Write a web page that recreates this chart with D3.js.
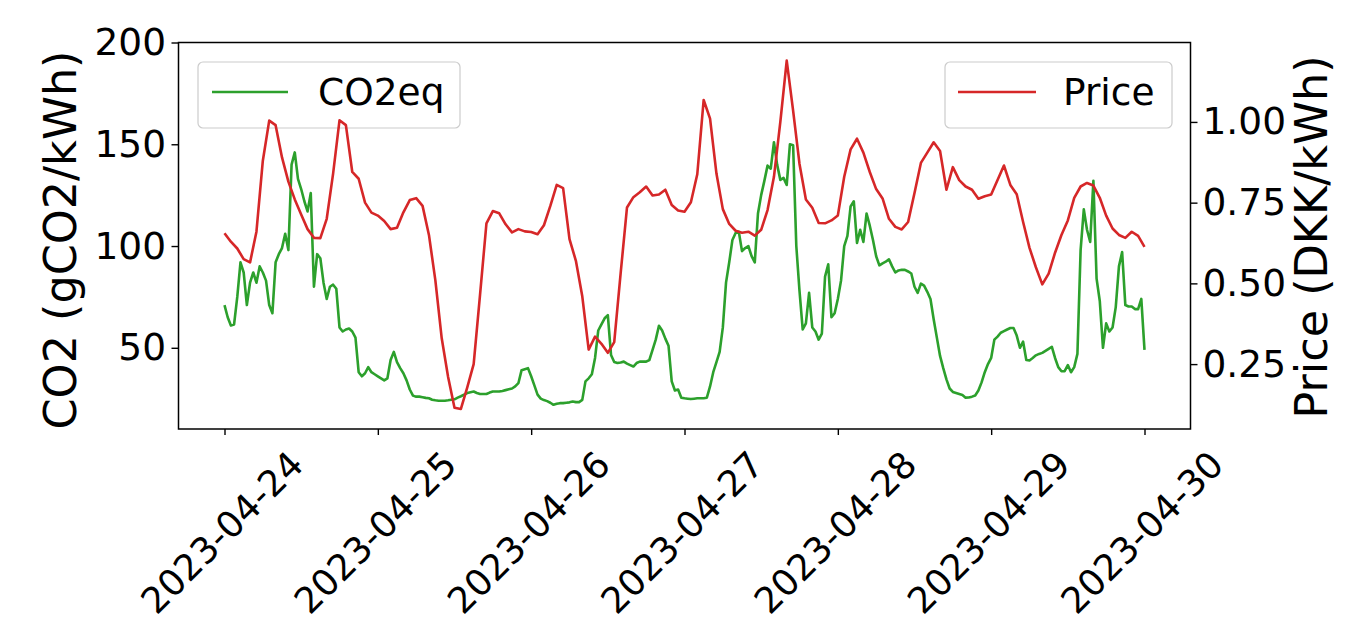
<!DOCTYPE html>
<html>
<head>
<meta charset="utf-8">
<script src="https://cdn.jsdelivr.net/npm/d3@7"></script>
<style>
    body { margin: 0; background: #fff; }
    text { font-family: "DejaVu Sans", sans-serif; }
</style>
</head>
<body>
<svg id="chart" width="1357" height="638"></svg>
<script>
// day ticks shown on the x axis
const dayTicks = ["2023-04-24", "2023-04-25", "2023-04-26", "2023-04-27", "2023-04-28", "2023-04-29", "2023-04-30"]
const co2Ticks = [50, 100, 150, 200]
const priceTicks = [0.25, 0.50, 0.75, 1.00]

// CO2eq, gCO2/kWh, every 30 min from 2023-04-24 00:00
const co2 = [
    71, 65, 61, 61.5, 75, 92, 87, 71, 82, 87, 82, 90, 87, 83, 71, 67, 92, 96, 99, 106, 98, 140, 146, 133,
    128, 122, 117, 126, 80, 96, 94, 82, 74, 80, 81, 79, 60, 58, 59, 59.5, 58, 55, 38, 36, 37.5, 40.5, 38, 37,
    36, 35, 34, 35, 44, 48, 43, 40, 37.5, 34, 29.5, 26.5, 26, 26, 25.7, 25.4, 25.2, 24.5, 24.2, 24, 24, 24, 24.2, 24.5,
    24.7, 25.5, 26.2, 27, 27.8, 28.2, 28.5, 27.8, 27.3, 27.3, 27.3, 28, 28.5, 28.5, 28.5, 28.8, 29.2, 29.6, 30, 31, 32.6, 39, 39.5, 40,
    36, 31.5, 27, 25, 24.3, 23.8, 23, 22, 22.5, 22.8, 22.8, 23, 23.2, 23.6, 23.3, 23.3, 24.4, 33.5, 35, 37, 45, 58.5, 61.5, 64.5,
    66, 46.5, 43, 42.5, 42.8, 43.2, 42.2, 41.5, 40.8, 42.5, 43.2, 43.2, 43.2, 44, 49, 54, 60.8, 58.5, 54.5, 51, 33.5, 29, 29.5, 25.5,
    25.2, 25, 24.8, 25, 25.2, 25.2, 25.2, 25.5, 31, 38, 43, 48, 60, 82, 92, 103, 106.4, 107, 97.5, 99, 100, 95, 92, 116,
    125, 132, 139.5, 138, 151, 140, 132.5, 133.5, 130, 150, 149.5, 100, 78, 59, 62, 77, 60, 58, 54, 57, 85, 91, 65, 67,
    74, 83, 100, 105, 119.5, 122, 101.5, 108, 102, 116, 110, 103, 95, 90.5, 91.5, 92.3, 93.5, 90, 87, 88, 88.3, 88.3, 87.5, 86.5,
    80, 77, 81.5, 80.5, 77.5, 74, 64, 55, 46, 40, 34.5, 30, 28.3, 27.8, 27.3, 26.8, 25.5, 25.6, 26, 26.6, 29, 33, 38, 42,
    45, 54, 55.5, 57.4, 58.2, 59, 59.7, 59.7, 56, 50, 53, 44, 43.8, 45, 46.3, 47, 47.5, 48.5, 49.5, 50.5, 45, 40.5, 38.5, 38.5,
    41.5, 38, 40.5, 47, 98, 118, 108, 102, 132, 84, 73, 50, 62, 58, 60, 70, 90, 97, 71, 70.3, 70.3, 69, 69, 74,
    49
]

// Price, DKK/kWh, hourly from 2023-04-24 00:00
const price = [
    .655, .629, .608, .575, .565, .66, .88, 1.004, .99, .89, .815, .76, .713, .668, .641, .64, .70, .84, 1.005, .99, .845, .824, .75, .719,
    .71, .693, .668, .672, .72, .758, .764, .74, .65, .51, .33, .21, .115, .111, .178, .25, .465, .686, .724, .717, .683, .658, .668, .661,
    .659, .652, .68, .74, .805, .795, .637, .57, .46, .295, .335, .313, .285, .318, .53, .735, .767, .782, .80, .772, .775, .79, .743, .726,
    .722, .751, .838, 1.068, 1.01, .84, .73, .684, .663, .657, .66, .648, .666, .727, .83, 1.0, 1.19, 1.035, .87, .76, .734, .687, .686, .695,
    .71, .83, .915, .948, .905, .845, .792, .763, .70, .675, .667, .69, .78, .873, .905, .937, .91, .79, .86, .82, .80, .79, .762, .77,
    .775, .82, .865, .805, .776, .69, .61, .55, .497, .53, .595, .65, .695, .765, .80, .811, .803, .765, .71, .67, .65, .641, .66, .647,
    .613
]

const green = "#2ca02c"
const red = "#d62728"

const parseDay = d3.timeParse("%Y-%m-%d")
const fmtDay = d3.timeFormat("%Y-%m-%d")
const days = dayTicks.map(parseDay)
const start = days[0]
const end = days[days.length - 1]

const co2Data = co2.map((v, i) => ({t: d3.timeMinute.offset(start, 30 * i), v: v}))
const priceData = price.map((v, i) => ({t: d3.timeHour.offset(start, i), v: v}))

const plotL = 178.5, plotR = 1190.5, plotT = 42.5, plotB = 429
const pad = (end - start) * 0.05

const x = d3.scaleTime()
    .domain([new Date(+start - pad), new Date(+end + pad)])
    .range([plotL, plotR])
const yCo2 = d3.scaleLinear().domain([10.1, 200]).range([plotB, plotT])
const yPrice = d3.scaleLinear().domain([0.049, 1.246]).range([plotB, plotT])

const svg = d3.select("#chart")
svg.append("rect").attr("width", 1357).attr("height", 638).attr("fill", "#fff")

// CO2 line (first axes)
svg.append("path")
    .datum(co2Data)
    .attr("fill", "none")
    .attr("stroke", green)
    .attr("stroke-width", 2.6)
    .attr("stroke-linejoin", "round")
    .attr("d", d3.line().x(d => x(d.t)).y(d => yCo2(d.v)))

// CO2 legend
const leg1 = svg.append("g")
leg1.append("rect")
    .attr("x", 198).attr("y", 62).attr("width", 262).attr("height", 66).attr("rx", 5)
    .attr("fill", "#fff").attr("fill-opacity", 0.8)
    .attr("stroke", "#cccccc").attr("stroke-width", 1.2)
leg1.append("line")
    .attr("x1", 212).attr("x2", 288).attr("y1", 92).attr("y2", 92)
    .attr("stroke", green).attr("stroke-width", 2.6)
leg1.append("text")
    .attr("x", 318).attr("y", 105)
    .attr("font-size", 37.5)
    .text("CO2eq")

// price line (twin axes, drawn on top)
svg.append("path")
    .datum(priceData)
    .attr("fill", "none")
    .attr("stroke", red)
    .attr("stroke-width", 2.6)
    .attr("stroke-linejoin", "round")
    .attr("d", d3.line().x(d => x(d.t)).y(d => yPrice(d.v)))

const leg2 = svg.append("g")
leg2.append("rect")
    .attr("x", 945).attr("y", 62).attr("width", 227).attr("height", 66).attr("rx", 5)
    .attr("fill", "#fff").attr("fill-opacity", 0.8)
    .attr("stroke", "#cccccc").attr("stroke-width", 1.2)
leg2.append("line")
    .attr("x1", 958).attr("x2", 1036).attr("y1", 92).attr("y2", 92)
    .attr("stroke", red).attr("stroke-width", 2.6)
leg2.append("text")
    .attr("x", 1063).attr("y", 105)
    .attr("font-size", 37.5)
    .text("Price")

// axes
function styleAxis(g) {
    g.select(".domain").remove()
    g.selectAll(".tick line").attr("stroke", "#000").attr("stroke-width", 1.4)
    g.selectAll(".tick text").attr("fill", "#000").attr("font-size", 37.5)
        .attr("font-family", "DejaVu Sans")
}

const gx = svg.append("g")
    .attr("transform", "translate(0," + plotB + ")")
    .call(d3.axisBottom(x).tickValues(days).tickFormat(fmtDay).tickSize(6).tickSizeOuter(0))
    .call(styleAxis)
gx.selectAll(".tick text")
    .attr("font-size", 36.3)
    .attr("y", 0).attr("dy", "0.35em")
    .attr("text-anchor", "middle")
    .attr("transform", "translate(-3,103.5) rotate(-45)")

svg.append("g")
    .attr("transform", "translate(" + plotL + ",0)")
    .call(d3.axisLeft(yCo2).tickValues(co2Ticks).tickSize(7).tickPadding(5.5).tickSizeOuter(0))
    .call(styleAxis)

svg.append("g")
    .attr("transform", "translate(" + plotR + ",0)")
    .call(d3.axisRight(yPrice).tickValues(priceTicks).tickFormat(d3.format(".2f")).tickSize(7).tickPadding(5).tickSizeOuter(0))
    .call(styleAxis)

// frame
svg.append("rect")
    .attr("x", plotL).attr("y", plotT).attr("width", plotR - plotL).attr("height", plotB - plotT)
    .attr("fill", "none").attr("stroke", "#000").attr("stroke-width", 1.5)

// axis labels
svg.append("text")
    .attr("transform", "translate(76,240) rotate(-90)")
    .attr("text-anchor", "middle")
    .attr("font-size", 44.5)
    .text("CO2 (gCO2/kWh)")

svg.append("text")
    .attr("transform", "translate(1327,237) rotate(-90)")
    .attr("text-anchor", "middle")
    .attr("font-size", 44.5)
    .text("Price (DKK/kWh)")
</script>
</body>
</html>
